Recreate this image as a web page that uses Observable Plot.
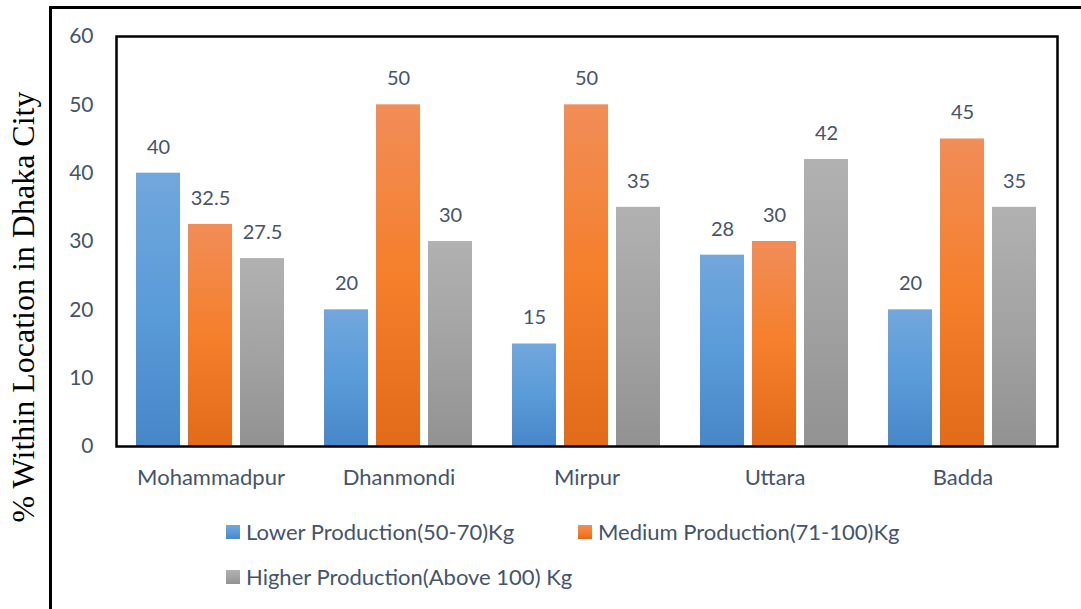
<!DOCTYPE html>
<html>
<head>
<meta charset="utf-8">
<script src="https://cdn.jsdelivr.net/npm/d3@7"></script>
<script src="https://cdn.jsdelivr.net/npm/@observablehq/plot@0.6"></script>
<style>
  body { margin: 0; background: #fff; }
  #wrap { position: relative; width: 1081px; height: 609px; overflow: hidden; font-family: Lato, "Open Sans", sans-serif; }
  #border { position: absolute; left: 49px; top: 6px; width: 1100px; height: 700px; border-left: 3px solid #000; border-top: 3px solid #000; }
  #chart { position: absolute; left: 0; top: 0; }
  #ytitle { position: absolute; left: 23px; top: 307px; transform: translate(-50%, -50%) rotate(-90deg); white-space: nowrap;
            font-family: "Liberation Serif", "DejaVu Serif", serif; font-size: 32px; color: #000; }
  #legend { position: absolute; left: 226px; top: 509px; display: grid; grid-template-columns: 352px auto; grid-auto-rows: 45px;
            align-items: center; font-size: 22px; color: #44546A; }
  .item { display: flex; align-items: center; white-space: nowrap; }
  .sw { width: 14px; height: 14px; margin-right: 6px; flex: none; }
</style>
</head>
<body>
<div id="wrap">
  <div id="border"></div>
  <div id="chart"></div>
  <div id="ytitle">% Within Location in Dhaka City</div>
  <div id="legend"></div>
</div>
<script>
// Locations surveyed and the share of farms in each production class
const locations = ["Mohammadpur", "Dhanmondi", "Mirpur", "Uttara", "Badda"];
const series = ["Lower Production(50-70)Kg", "Medium Production(71-100)Kg", "Higher Production(Above 100) Kg"];
const lower = [40, 20, 15, 28, 20];
const medium = [32.5, 50, 50, 30, 45];
const higher = [27.5, 30, 35, 42, 35];
const yTicks = [0, 10, 20, 30, 40, 50, 60];

// Vertical gradients for each series: light top, base middle, darker bottom
const gradients = [
  {id: "g-lower", stops: ["#71A7DC", "#5A9BD9", "#4787C8"]},
  {id: "g-medium", stops: ["#F18D58", "#F57F2B", "#E26B19"]},
  {id: "g-higher", stops: ["#B1B1B1", "#A3A3A3", "#929292"]}
];

const data = locations.flatMap((loc, i) =>
  [lower, medium, higher].map((vals, j) => ({location: loc, series: series[j], value: vals[i]}))
);

const chart = Plot.plot({
  width: 1081,
  height: 500,
  marginTop: 36,
  marginLeft: 116,
  marginRight: 24,
  marginBottom: 54,
  style: {fontFamily: "Lato, 'Open Sans', sans-serif", fontSize: "21px", color: "#44546A", background: "transparent"},
  fx: {domain: locations, paddingInner: 0.21, paddingOuter: 0.105, label: null, tickSize: 0, tickPadding: 23, fontSize: 22},
  x: {domain: series, paddingInner: 0.15, paddingOuter: 0, axis: null},
  y: {domain: [0, 60], ticks: yTicks, tickSize: 0, tickPadding: 43, label: null, tickFormat: d3.format("d")},
  color: {domain: series, range: gradients.map(g => `url(#${g.id})`)},
  marks: [
    Plot.barY(data, {fx: "location", x: "series", y: "value", fill: "series"}),
    Plot.text(data, {fx: "location", x: "series", y: "value", text: d => String(d.value), dy: -26, fill: "#44546A", fontSize: 20}),
    Plot.frame({facet: "super", stroke: "#000", strokeWidth: 2.5, insetLeft: -20, insetRight: -20})
  ]
});

// fx tick labels slightly larger than the numeric labels
d3.select(chart).selectAll("[aria-label='fx-axis tick label'] text, [aria-label='fx-axis'] text").style("font-size", "22px");

const defs = d3.select(chart).insert("defs", ":first-child");
for (const g of gradients) {
  const lg = defs.append("linearGradient").attr("id", g.id).attr("x1", 0).attr("y1", 0).attr("x2", 0).attr("y2", 1);
  g.stops.forEach((c, k) => lg.append("stop").attr("offset", `${k * 50}%`).attr("stop-color", c));
}
document.getElementById("chart").appendChild(chart);

// Legend built from the same series and gradient colours
const legend = d3.select("#legend");
series.forEach((s, j) => {
  const item = legend.append("div").attr("class", "item");
  const st = gradients[j].stops;
  item.append("div").attr("class", "sw").style("background", `linear-gradient(${st[0]}, ${st[1]} 50%, ${st[2]})`);
  item.append("span").text(s);
});
</script>
</body>
</html>
